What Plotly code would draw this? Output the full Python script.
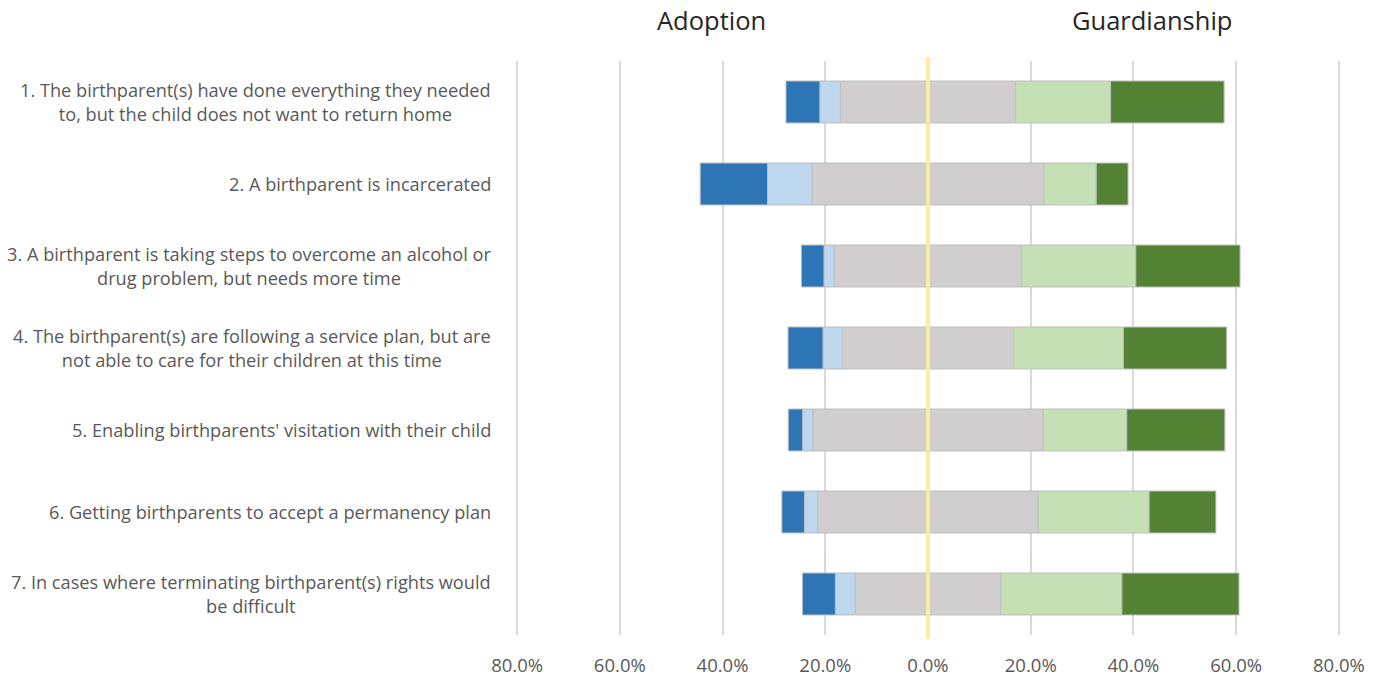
import plotly.graph_objects as go

categories = [
    "1. The birthparent(s) have done everything they needed<br>to, but the child does not want to return home",
    "2. A birthparent is incarcerated",
    "3. A birthparent is taking steps to overcome an alcohol or<br>drug problem, but needs more time",
    "4. The birthparent(s) are following a service plan, but are<br>not able to care for their children at this time",
    "5. Enabling birthparents' visitation with their child",
    "6. Getting birthparents to accept a permanency plan",
    "7. In cases where terminating birthparent(s) rights would<br>be difficult",
]

# percentages
adoption_strong = [6.6, 13.1, 4.4, 6.8, 2.8, 4.4, 6.4]
adoption_some = [4.0, 8.7, 2.0, 3.8, 2.0, 2.6, 3.9]
neutral = [34.1, 45.1, 36.5, 33.3, 44.8, 42.9, 28.3]
guardianship_some = [18.5, 10.2, 22.2, 21.4, 16.3, 21.6, 23.6]
guardianship_strong = [22.1, 6.2, 20.3, 20.1, 19.1, 13.0, 22.8]

tick_vals = [-80, -60, -40, -20, 0, 20, 40, 60, 80]
tick_text = ["80.0%", "60.0%", "40.0%", "20.0%", "0.0%", "20.0%", "40.0%", "60.0%", "80.0%"]

side_titles = ["Adoption", "Guardianship"]

C_DB = "#2E75B6"
C_LB = "#BDD7EE"
C_GR = "#D0CECE"
C_LG = "#C5E0B4"
C_DG = "#548235"
OUTLINE = dict(color="#BFBFBF", width=1)

half_neutral = [v / 2 for v in neutral]

fig = go.Figure()
def add(vals, color, name):
    fig.add_trace(go.Bar(
        y=categories, x=vals, orientation="h", name=name,
        marker=dict(color=color, line=OUTLINE), showlegend=False,
        hoverinfo="skip",
    ))

add([-v for v in half_neutral], C_GR, "Neutral")
add([-v for v in adoption_some], C_LB, "Adoption (some)")
add([-v for v in adoption_strong], C_DB, "Adoption (strong)")
add(half_neutral, C_GR, "Neutral ")
add(guardianship_some, C_LG, "Guardianship (some)")
add(guardianship_strong, C_DG, "Guardianship (strong)")

fig.add_shape(type="line", xref="x", yref="paper", x0=0, x1=0, y0=-0.007, y1=1.007,
              line=dict(color="#FBEC9E", width=4), layer="above")

for i, lab in enumerate(categories):
    fig.add_annotation(
        text=lab, xref="paper", yref="y", x=0, y=lab, xanchor="right", yanchor="middle",
        xshift=-21, align="center", showarrow=False,
        font=dict(family="Open Sans", size=18.2, color="#595959"),
    )

for txt, xp in zip(side_titles, [0.2384, 0.770]):
    fig.add_annotation(
        text=txt, xref="x domain", yref="paper", x=xp, y=1.0714, xanchor="center", yanchor="middle",
        showarrow=False, font=dict(family="Open Sans", size=25.5, color="#262626"),
    )

fig.update_layout(
    width=1381, height=677,
    margin=dict(l=514, r=39, t=61, b=42, autoexpand=False),
    barmode="relative", bargap=0.488,
    plot_bgcolor="white", paper_bgcolor="white",
    font=dict(family="Open Sans", color="#595959"),
    xaxis=dict(range=[-80.6, 80.6], tickvals=tick_vals, ticktext=tick_text,
               showgrid=True, gridcolor="#D9D9D9", gridwidth=1.5, zeroline=False,
               showline=False, tickfont=dict(size=18.5, color="#595959"),
               ticklabelstandoff=17, automargin=False, fixedrange=True),
    yaxis=dict(autorange="reversed", showticklabels=False, showgrid=False,
               zeroline=False, showline=False, automargin=False, fixedrange=True),
)

fig.write_html("out.html", config={"displayModeBar": False},
               post_script="document.body.style.margin='0';")
